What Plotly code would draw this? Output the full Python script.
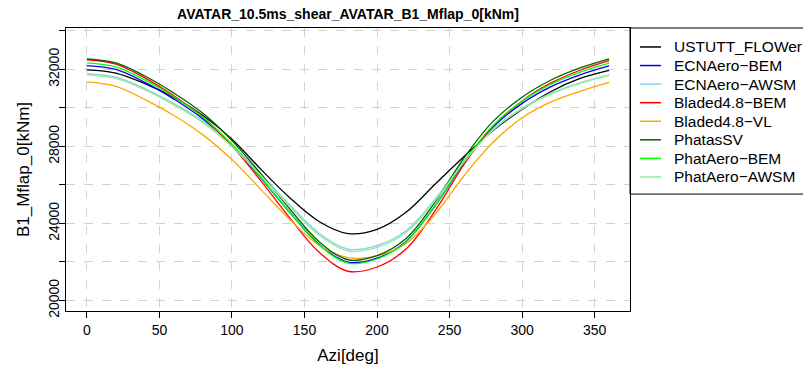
import plotly.graph_objects as go

azi = [0, 20, 40, 60, 80, 100, 120, 140, 160, 180, 200, 220, 240, 260, 280, 300, 320, 340, 360]

ustutt_flower = [31980, 31810, 31259, 30538, 29606, 28376, 26807, 25323, 24100, 23470, 23690, 24580, 26035, 27472, 28824, 29922, 30852, 31528, 31950]
ecnaero_bem = [32200, 31995, 31328, 30456, 29430, 28045, 26352, 24556, 22915, 21991, 22196, 23066, 24910, 27162, 29006, 30234, 31105, 31719, 32180]
ecnaero_awsm = [31780, 31597, 31001, 30223, 29307, 28070, 26559, 24956, 23490, 22666, 22847, 23620, 25256, 27256, 28892, 29983, 30756, 31301, 31710]
bladed_bem = [32500, 32279, 31562, 30623, 29519, 28029, 26207, 24275, 22509, 21515, 21735, 22669, 24647, 27065, 29043, 30362, 31296, 31955, 32450]
bladed_vl = [31350, 31121, 30433, 29608, 28599, 27315, 25756, 24197, 22868, 22226, 22317, 22957, 24465, 26476, 28212, 29492, 30315, 30863, 31320]
phatas_sv = [32550, 32340, 31658, 30767, 29718, 28302, 26571, 24735, 23057, 22112, 22322, 23214, 25102, 27410, 29298, 30557, 31449, 32078, 32550]
phataero_bem = [32340, 32131, 31452, 30564, 29519, 28108, 26384, 24555, 22883, 21942, 22151, 23038, 24918, 27214, 29094, 30346, 31234, 31860, 32330]
phataero_awsm = [31720, 31536, 30938, 30156, 29236, 27994, 26476, 24866, 23394, 22566, 22749, 23529, 25179, 27197, 28847, 29948, 30727, 31277, 31690]

series = [
    ("USTUTT_FLOWer", ustutt_flower, "#000000"),
    ("ECNAero\u2212BEM", ecnaero_bem, "#0000FF"),
    ("ECNAero\u2212AWSM", ecnaero_awsm, "#87CEEB"),
    ("Bladed4.8\u2212BEM", bladed_bem, "#FF0000"),
    ("Bladed4.8\u2212VL", bladed_vl, "#FFA500"),
    ("PhatasSV", phatas_sv, "#006400"),
    ("PhatAero\u2212BEM", phataero_bem, "#00FF00"),
    ("PhatAero\u2212AWSM", phataero_awsm, "#90EE90"),
]

x_ticks = [0, 50, 100, 150, 200, 250, 300, 350]
y_ticks = [20000, 22000, 24000, 26000, 28000, 30000, 32000, 34000]
y_ticktext = ["20000", "", "24000", "", "28000", "", "32000", ""]

FONT = "Liberation Sans, Arial, Helvetica, sans-serif"

W, H = 803, 374
L, R, T, B = 66, 630, 28, 316
PW, PH = R - L, B - T


def px_x(px):
    return (px - L) / PW


def px_y(py):
    return (B - py) / PH


fig = go.Figure()
for name, vals, col in series:
    fig.add_trace(go.Scatter(x=azi, y=vals, mode="lines", name=name, showlegend=False,
                             line=dict(color=col, width=1.3, shape="spline", smoothing=1.0)))

# legend (drawn as R-style box with line samples)
shapes = [dict(type="rect", xref="paper", yref="paper", x0=1, x1=1.6,
               y0=px_y(197), y1=1,
               line=dict(color="black", width=1), fillcolor="rgba(0,0,0,0)", layer="above")]
annotations = []
for i, (name, vals, col) in enumerate(series):
    yc = 47.3 + 18.9 * i
    shapes.append(dict(type="line", xref="paper", yref="paper",
                       x0=px_x(640), x1=px_x(661), y0=px_y(yc), y1=px_y(yc),
                       line=dict(color=col, width=1.5), layer="above"))
    annotations.append(dict(text=name, xref="paper", yref="paper", x=px_x(671.5), y=px_y(yc),
                            xanchor="left", yanchor="middle", showarrow=False,
                            font=dict(family=FONT, size=15.5, color="black")))

fig.update_layout(
    width=W, height=H,
    margin=dict(l=L, r=W - R, t=T, b=H - B, pad=0),
    paper_bgcolor="white", plot_bgcolor="white",
    font=dict(family=FONT, size=14, color="black"),
    title=dict(text="<b>AVATAR_10.5ms_shear_AVATAR_B1_Mflap_0[kNm]</b>",
               x=0.5, xref="paper", y=1 - 14 / H, yref="container",
               xanchor="center", yanchor="middle",
               font=dict(family=FONT, size=14, color="black")),
    showlegend=False,
    xaxis=dict(range=[-14.4, 374.4], tickvals=x_ticks, ticks="outside", ticklen=6,
               tickcolor="black", showline=True, linecolor="black", linewidth=1, mirror=True,
               showgrid=True, gridcolor="#D3D3D3", griddash="dash", gridwidth=1,
               zeroline=False, title=dict(text="Azi[deg]", standoff=12),
               tickfont=dict(size=14)),
    yaxis=dict(range=[19450, 34150], tickvals=y_ticks, ticktext=y_ticktext, ticks="outside",
               ticklen=6, tickcolor="black", tickangle=-90, showline=True, linecolor="black",
               linewidth=1, mirror=True, showgrid=True, gridcolor="#D3D3D3", griddash="dash",
               gridwidth=1, zeroline=False, title=dict(text="B1_Mflap_0[kNm]", standoff=12),
               tickfont=dict(size=14), ticklabelstandoff=-6),
    shapes=shapes,
    annotations=annotations,
)

fig.write_html("out.html")
